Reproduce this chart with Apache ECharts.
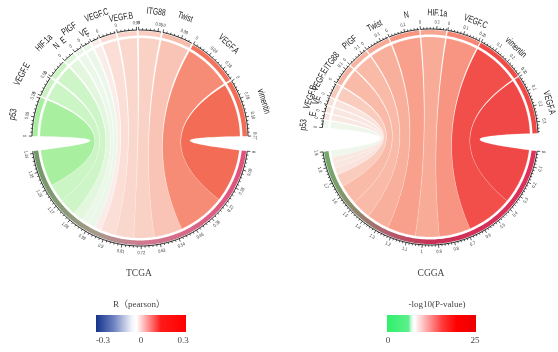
<!DOCTYPE html>
<html>
<head>
<meta charset="utf-8">
<script src="https://cdn.jsdelivr.net/npm/echarts@6/dist/echarts.min.js"></script>
<style>
html,body{margin:0;padding:0;background:#fff;}
#main{width:558px;height:352px;}
</style>
</head>
<body>
<div id="main"></div>
<script>
// TCGA: pearson R of each gene, top half clockwise from the left
var tcgaGenes = ['p53','VEGF.E','HIF.1a','N','E','PIGF','VE','VEGF.C','VEGF.B','ITG88','Twist','VEGF.A','vimentin'];
var tcgaR = [-0.185,-0.092,-0.088,-0.053,-0.036,-0.036,0.036,0.076,0.091,0.105,0.143,0.24,0.27];
var tcgaStep = 0.09;

// CGGA
var cggaGenes = ['p53','E','VE','VEGF.B','VEGF.E','ITG88','PIGF','Twist','N','HIF.1a','VEGF.C','vimentin','VEGF.A'];
var cggaR = [-0.045,0.035,0.04,0.045,0.085,0.13,0.13,0.15,0.19,0.16,0.21,0.31,0.37];
var cggaStep = 0.1;

// colour bars under the circles
var tcgaBarTicks = ['-0.3','0','0.3'];
var cggaBarTicks = ['0','25'];

var tcgaLinkStops = [[-0.19,'#a6ef9d'],[-0.09,'#cdf5c6'],[-0.05,'#e4f7e0'],[-0.03,'#eef7ec'],[0,'#f8f4f2'],
  [0.04,'#faece8'],[0.08,'#fbdcd3'],[0.1,'#fad2c7'],[0.14,'#f9c6b7'],[0.24,'#f68c75'],[0.27,'#f26c56']];
var cggaLinkStops = [[-0.05,'#eef8ec'],[0,'#f8f0ec'],[0.04,'#f9e6e0'],[0.085,'#f9ccbe'],[0.13,'#f9baa8'],
  [0.15,'#f8b09c'],[0.2,'#f89c88'],[0.25,'#f67a68'],[0.31,'#f24e4a'],[0.37,'#f04846']];

function hex(c){return [parseInt(c.substr(1,2),16),parseInt(c.substr(3,2),16),parseInt(c.substr(5,2),16)];}
function mix(a,b,t){
  var x=hex(a),y=hex(b);
  return 'rgb('+[0,1,2].map(function(k){return Math.round(x[k]+(y[k]-x[k])*t);}).join(',')+')';
}
function colorAt(stops,v){
  if(v<=stops[0][0]) return stops[0][1];
  for(var i=1;i<stops.length;i++){
    if(v<=stops[i][0]){
      return mix(stops[i-1][1],stops[i][1],(v-stops[i-1][0])/(stops[i][0]-stops[i-1][0]));
    }
  }
  return stops[stops.length-1][1];
}

// angles: degrees clockwise from the left side (polar angleAxis)
function layout(vals,g){
  var abs=vals.map(Math.abs);
  var sum=abs.reduce(function(s,v){return s+v;},0);
  var deg=(g.topEnd-g.topStart-g.gap*(vals.length-1))/sum;
  var top=[],bot=[],a=g.topStart,b=g.botStart;
  for(var i=0;i<vals.length;i++){ top.push([a,a+abs[i]*deg]); a+=abs[i]*deg+g.gap; }
  for(var j=vals.length-1;j>=0;j--){ bot[j]=[b,b+abs[j]*deg]; b+=abs[j]*deg; }
  return {top:top,bot:bot,deg:deg,sum:sum,abs:abs,botStart:g.botStart};
}

var charts = [
  {genes:tcgaGenes, vals:tcgaR, step:tcgaStep, stops:tcgaLinkStops, R:108, labR:21,
   geo:{topStart:1,topEnd:179,gap:1,botStart:187},
   botGrad:[[0,'#6f9866'],[0.3,'#a89a8c'],[0.5,'#cf7a90'],[1,'#e2507a']],
   nudge:{'p53':[-1,0],'VEGF.E':[0,5],'HIF.1a':[5,6],'N':[-1,-5],'E':[-3,-5],'PIGF':[-3,1],'VE':[-3,-10],
          'VEGF.C':[-2,1],'VEGF.B':[-2,-7],'ITG88':[2,-2]}},
  {genes:cggaGenes, vals:cggaR, step:cggaStep, stops:cggaLinkStops, R:108, labR:16,
   geo:{topStart:5,topEnd:178,gap:0.7,botStart:187.5},
   botGrad:[[0,'#6fae6a'],[0.3,'#b0606e'],[0.5,'#c83055'],[1,'#e0305a']],
   nudge:{'p53':[-1.5,3],'E':[0,-5],'VE':[3,-5],'VEGF.B':[-1,2],'VEGF.E':[1.7,0],'ITG88':[2,0],
          'PIGF':[2,0],'Twist':[3,0],'N':[3,0],'HIF.1a':[1.5,0],'VEGF.C':[3,0],'vimentin':[2,0],'VEGF.A':[2,0]}}
];
charts.forEach(function(c){ c.lay=layout(c.vals,c.geo); });

function xy(p){return [p[0],p[1]];}
function arc(api,r,a1,a2){
  var n=Math.max(2,Math.ceil(Math.abs(a2-a1)/1.2)),pts=[];
  for(var i=0;i<=n;i++) pts.push(xy(api.coord([r,a1+(a2-a1)*i/n])));
  return pts;
}
function bez(p0,c,p2){
  var pts=[];
  for(var i=1;i<30;i++){
    var t=i/30,u=1-t;
    pts.push([u*u*p0[0]+2*u*t*c[0]+t*t*p2[0], u*u*p0[1]+2*u*t*c[1]+t*t*p2[1]]);
  }
  return pts;
}
function tangentRot(a){
  var th=180-a;
  if(th<-180) th+=360;
  var r = Math.sin(th*Math.PI/180)>=0 ? th-90 : th+90;
  return r*Math.PI/180;
}
function fmt(v){return String(+v.toFixed(2));}

function linkSeries(k){
  var c=charts[k],L=c.lay,rl=c.R-8;
  return {type:'custom',coordinateSystem:'polar',polarIndex:k,silent:true,clip:false,animation:false,z:1,
    data:c.vals.map(function(v,i){return [rl,(L.top[i][0]+L.top[i][1])/2];}),
    renderItem:function(params,api){
      var i=params.dataIndex,t=L.top[i],b=L.bot[i];
      var ctr=xy(api.coord([0,0]));
      var pts=arc(api,rl,t[0],t[1]);
      pts=pts.concat(bez(xy(api.coord([rl,t[1]])),ctr,xy(api.coord([rl,b[0]]))));
      pts=pts.concat(arc(api,rl,b[0],b[1]));
      pts=pts.concat(bez(xy(api.coord([rl,b[1]])),ctr,xy(api.coord([rl,t[0]]))));
      return {type:'polygon',shape:{points:pts},
        style:{fill:colorAt(c.stops,c.vals[i]),stroke:'rgba(255,255,255,0.35)',lineWidth:0.4}};
    }};
}

function ring(api,r1,r2,a1,a2){
  return arc(api,r2,a1,a2).concat(arc(api,r1,a2,a1));
}

function trackSeries(k){
  var c=charts[k],L=c.lay,n=c.vals.length;
  var items=c.vals.map(function(v,i){return [c.R,(L.top[i][0]+L.top[i][1])/2];});
  items.push([c.R,270]);
  return {type:'custom',coordinateSystem:'polar',polarIndex:k,silent:true,clip:false,animation:false,z:2,
    data:items,
    renderItem:function(params,api){
      var i=params.dataIndex;
      if(i<n){
        return {type:'polygon',shape:{points:ring(api,c.R-5.5,c.R-1,L.top[i][0],L.top[i][1])},
          style:{fill:colorAt(c.stops,c.vals[i]*1.1)}};
      }
      return {type:'polygon',shape:{points:ring(api,c.R-5.5,c.R-1,L.botStart,L.botStart+L.sum*L.deg)},
        style:{fill:{type:'linear',x:0,y:0,x2:1,y2:0,
          colorStops:c.botGrad.map(function(s){return {offset:s[0],color:s[1]};})}}};
    }};
}

function axisGroup(api,c,a0,width,deg){
  var kids=[{type:'polyline',shape:{points:arc(api,c.R,a0,a0+width*deg)},style:{stroke:'#111',lineWidth:0.9,fill:null}}];
  var minor=c.step/5;
  for(var m=0;m*minor<=width+1e-9;m++){
    var a=a0+m*minor*deg,major=(m%5===0);
    var p1=xy(api.coord([c.R,a])),p2=xy(api.coord([c.R+(major?3.2:1.8),a]));
    kids.push({type:'line',shape:{x1:p1[0],y1:p1[1],x2:p2[0],y2:p2[1]},style:{stroke:'#111',lineWidth:0.7}});
    if(major){
      var q=xy(api.coord([c.R+7,a]));
      kids.push({type:'text',x:q[0],y:q[1],rotation:tangentRot(a),scaleX:0.8,
        style:{text:fmt(m*minor),x:0,y:0,fontSize:4.8,fontFamily:'Liberation Sans',fill:'#333',
          align:'center',verticalAlign:'middle',textAlign:'center',textVerticalAlign:'middle'}});
    }
  }
  return {type:'group',children:kids};
}

function axisSeries(k){
  var c=charts[k],L=c.lay,n=c.vals.length;
  var items=c.vals.map(function(v,i){return [c.R,(L.top[i][0]+L.top[i][1])/2];});
  items.push([c.R,270]);
  return {type:'custom',coordinateSystem:'polar',polarIndex:k,silent:true,clip:false,animation:false,z:3,
    data:items,
    renderItem:function(params,api){
      var i=params.dataIndex;
      if(i<n) return axisGroup(api,c,L.top[i][0],L.abs[i],L.deg);
      return axisGroup(api,c,L.botStart,L.sum,L.deg);
    }};
}

function nameSeries(k){
  var c=charts[k],L=c.lay;
  return {type:'custom',coordinateSystem:'polar',polarIndex:k,silent:true,clip:false,animation:false,z:4,
    data:c.vals.map(function(v,i){return [c.R+c.labR,(L.top[i][0]+L.top[i][1])/2];}),
    renderItem:function(params,api){
      var i=params.dataIndex,g=c.genes[i],nd=c.nudge[g]||[0,0];
      var a=(L.top[i][0]+L.top[i][1])/2+nd[0];
      var q=xy(api.coord([c.R+c.labR+nd[1],a]));
      return {type:'text',x:q[0],y:q[1],rotation:tangentRot(a),scaleX:0.72,
        style:{text:g,x:0,y:0,fontSize:9.5,fontFamily:'Liberation Sans',fill:'#222',
          align:'center',verticalAlign:'middle',textAlign:'center',textVerticalAlign:'middle'}};
    }};
}

var series=[];
[0,1].forEach(function(k){
  series.push(linkSeries(k),trackSeries(k),axisSeries(k),nameSeries(k));
});

var serif='"Liberation Serif","Noto Sans CJK SC",serif';
function label(x,y,t,size){
  return {type:'text',x:x,y:y,style:{text:t,font:size+'px '+serif,fill:'#444',
    align:'center',verticalAlign:'middle',textAlign:'center',textVerticalAlign:'middle'}};
}
function bar(x,w,stops){
  return {type:'rect',shape:{x:x,y:315,width:w,height:17},
    style:{fill:{type:'linear',x:0,y:0,x2:1,y2:0,colorStops:stops.map(function(s){return {offset:s[0],color:s[1]};})}}};
}

var chart=echarts.init(document.getElementById('main'));
chart.setOption({
  animation:false,
  polar:[{center:[140,138],radius:150},{center:[430,137],radius:150}],
  angleAxis:[
    {polarIndex:0,type:'value',min:0,max:360,startAngle:180,clockwise:true,show:false},
    {polarIndex:1,type:'value',min:0,max:360,startAngle:180,clockwise:true,show:false}
  ],
  radiusAxis:[
    {polarIndex:0,type:'value',min:0,max:150,show:false},
    {polarIndex:1,type:'value',min:0,max:150,show:false}
  ],
  series:series,
  graphic:[
    label(139,273,'TCGA',9.5),
    label(431,273,'CGGA',9.5),
    label(139,305,'R（pearson）',9),
    label(437,305,'-log10(P-value)',9),
    bar(96,90,[[0,'#14338a'],[0.2,'#6f83c2'],[0.4,'#f4f5fa'],[0.45,'#ffffff'],[0.72,'#ff1a1a'],[1,'#ff0000']]),
    bar(387,89,[[0,'#2ff06a'],[0.24,'#5cf08c'],[0.28,'#e6f9ec'],[0.31,'#ffffff'],[0.62,'#ff3a3a'],[0.78,'#ff0000'],[1,'#ec0000']]),
    label(103,341,tcgaBarTicks[0],9),
    label(141,341,tcgaBarTicks[1],9),
    label(183,341,tcgaBarTicks[2],9),
    label(388,341,cggaBarTicks[0],9),
    label(475,341,cggaBarTicks[1],9)
  ]
});
</script>
</body>
</html>
